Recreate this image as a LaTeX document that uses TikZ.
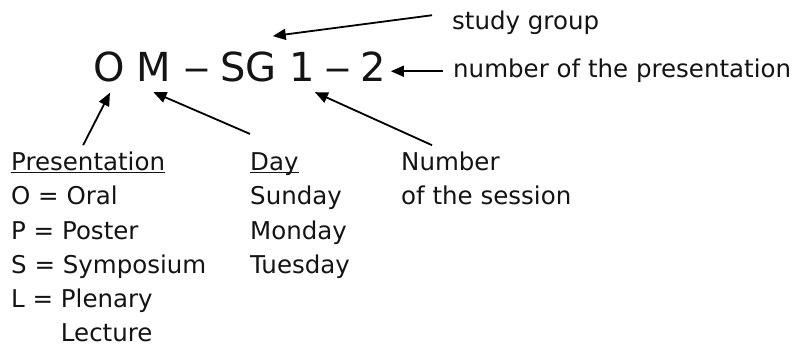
\documentclass[tikz,border=0pt]{standalone}
\usepackage{fontspec}
\setmainfont{DejaVu Sans}
\usetikzlibrary{arrows.meta, positioning}
\definecolor{inkdark}{RGB}{20, 20, 20}
\newcommand{\ulabel}[1]{\underline{\raisebox{0pt}[\height][0pt]{#1}}}
\tikzset{
    codepart/.style={inner sep=0pt, anchor=base west, text=inkdark, font=\fontsize{40}{48}\selectfont},
    codedash/.style={codepart, xscale=1.35, transform shape},
    note/.style={inner sep=0pt, anchor=base west, text=inkdark, align=left, font=\fontsize{24.5}{34}\selectfont},
    arrow/.style={-{Triangle[length=13pt, width=11pt]}, black, line width=1.8pt}
}

\begin{document}
\begin{tikzpicture}[x=1pt, y=-1pt]
            \path[fill=white, use as bounding box] (0,0) rectangle (810,352);
            % the code itself
            \node (pO) [codepart] at (93,82) {O};
            \node (pM) [codepart] at (136,82) {M};
            \node (pDashA) [codedash] at (183,82) {--};
            \node (pSG) [codepart] at (220,82) {SG};
            \node (pOne) [codepart] at (289,82) {1};
            \node (pDashB) [codedash] at (324,82) {--};
            \node (pTwo) [codepart] at (360,82) {2};

            % explanations (base of a multi-line node = its last line)
            \node (study) [note] at (452,30) {study group};
            \node (numPres) [note] at (453,78) {number of the presentation};
            \node (presHead) [note] at (11,171) {\ulabel{Presentation}};
            \node (presList) [note] at (11,341) {O = Oral\\P = Poster\\S = Symposium\\L = Plenary\\\phantom{L = }Lecture};
            \node (dayHead) [note] at (250,171) {\ulabel{Day}};
            \node (dayList) [note] at (250,273) {Sunday\\Monday\\Tuesday};
            \node (session) [note] at (401,205) {Number\\of the session};

            \draw [arrow] ([xshift=-20pt, yshift=8pt]study.west) -- ([xshift=-4pt, yshift=16pt]pSG.north east);
            \draw [arrow, shorten >=5pt] ([xshift=-10pt]numPres.west) -- (numPres.west -| pTwo.east);
            \draw [arrow] ([xshift=-5pt, yshift=7pt]presHead.north) -- ([xshift=1pt, yshift=-10pt]pO.south);
            \draw [arrow] ([yshift=19pt]dayHead.north west) -- ([yshift=-10pt]pM.south);
            \draw [arrow] ([xshift=31pt, yshift=7pt]session.north west) -- ([xshift=13pt, yshift=-10pt]pOne.south);
        \end{tikzpicture}
\end{document}
